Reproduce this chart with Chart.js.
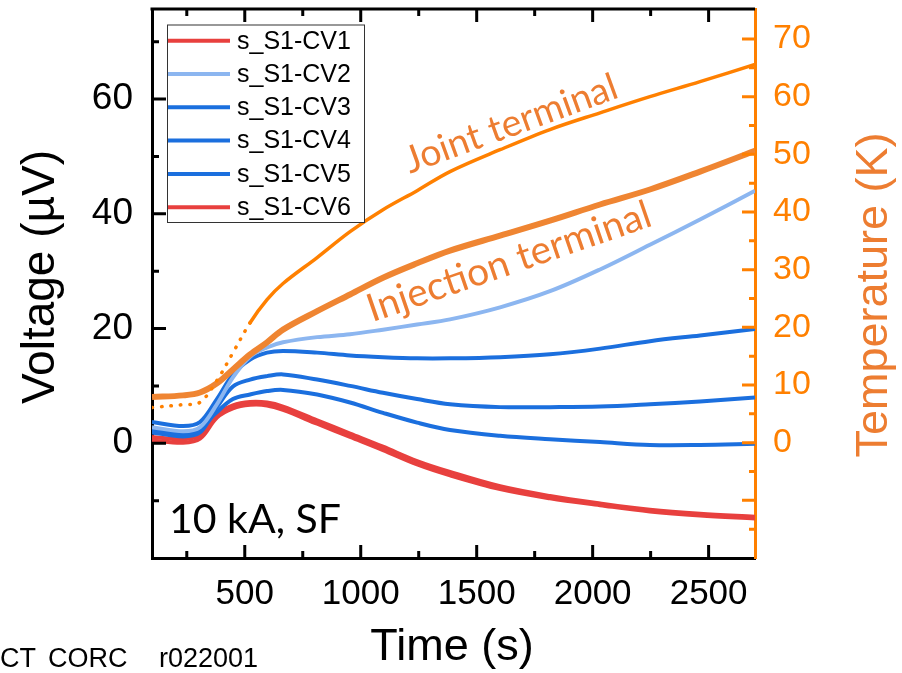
<!DOCTYPE html>
<html>
<head>
<meta charset="utf-8">
<script src="https://cdn.jsdelivr.net/npm/chart.js@4.4.1/dist/chart.umd.min.js"></script>
<style>
  html, body { margin: 0; padding: 0; background: #fff; }
  #wrap { width: 902px; height: 673px; }
</style>
</head>
<body>
<div id="wrap"><canvas id="chart" width="902" height="673"></canvas></div>
<script>
// temps (s)
const time = [100, 234, 307, 380, 449, 523, 596, 665, 812, 954, 1096, 1243, 1385, 1601, 1816, 2032, 2247, 2463, 2700];

// tensions (µV)
const cv1 = [0.5, 0.1, 0.8, 4.5, 6.1, 6.7, 6.6, 5.8, 3.4, 1.1, -1.2, -3.7, -5.6, -8.0, -9.6, -10.8, -11.9, -12.6, -13.1];
const cv2 = [2.8, 2.1, 2.8, 6.8, 11.5, 15.1, 16.7, 17.6, 18.5, 19.0, 19.8, 20.7, 21.6, 23.7, 26.5, 30.3, 34.6, 39.0, 44.0];
const cv3 = [3.7, 3.0, 3.7, 7.7, 12.0, 14.6, 15.8, 16.1, 15.8, 15.3, 15.0, 14.8, 14.8, 15.0, 15.5, 16.5, 17.8, 18.8, 19.9];
const cv4 = [2.3, 1.6, 2.3, 6.3, 9.9, 11.1, 11.7, 12.0, 11.1, 10.0, 8.8, 7.7, 6.8, 6.3, 6.3, 6.4, 6.8, 7.3, 8.0];
const cv5 = [1.9, 1.2, 1.9, 5.4, 7.7, 8.5, 9.1, 9.3, 8.5, 7.1, 5.3, 3.6, 2.3, 1.3, 0.7, 0.2, -0.3, -0.3, -0.1];
const cv6 = [1.1, 0.7, 1.4, 5.0, 6.6, 7.2, 7.1, 6.4, 4.0, 1.7, -0.6, -3.1, -5.0, -7.5, -9.2, -10.5, -11.6, -12.3, -12.8];

// températures (K)
const tJoint = [6.1, 6.6, 7.0, 10.8, 15.6, 20.8, 24.8, 27.6, 32.1, 36.6, 40.4, 43.7, 47.0, 50.8, 54.3, 57.2, 60.0, 62.6, 65.6];
const tInjection = [7.9, 8.2, 8.7, 10.3, 12.7, 15.3, 17.4, 19.6, 22.8, 25.7, 28.6, 31.1, 33.3, 35.9, 38.5, 41.3, 43.9, 47.0, 50.6];

// étiquettes des axes
const timeLabels = [500, 1000, 1500, 2000, 2500];
const voltLabels = [0, 20, 40, 60];
const tempLabels = [0, 10, 20, 30, 40, 50, 60, 70];

const RED = '#e8403e';
const LIGHT = '#8cb6f0';
const BLUE = '#1b6fde';
const ORANGE = '#ff8000';
const ORANGE2 = '#ed7d31';

const pts = arr => arr.map((v, i) => ({ x: time[i], y: v }));

// pas de marge automatique autour des axes
const fixBox = (w, h) => s => {
    if (w !== null) s.width = w;
    if (h !== null) s.height = h;
    s.paddingTop = 0;
    s.paddingBottom = 0;
    s.paddingLeft = 0;
    s.paddingRight = 0;
};

// ticks vers l'intérieur + bord du haut
const axisDecor = {
    id: 'axisDecor',
    afterDraw(chart) {
        const { ctx, chartArea: a, scales: { x, y, y2 } } = chart;
        ctx.save();
        ctx.lineWidth = 3;
        ctx.strokeStyle = '#000';
        ctx.beginPath();
        ctx.moveTo(a.left - 1.5, a.top);
        ctx.lineTo(a.right, a.top);
        x.ticks.forEach(t => {
            const px = x.getPixelForValue(t.value);
            const len = t.value % 500 === 0 ? 13 : 7;
            ctx.moveTo(px, a.bottom);
            ctx.lineTo(px, a.bottom - len);
            ctx.moveTo(px, a.top);
            ctx.lineTo(px, a.top + len);
        });
        y.ticks.forEach(t => {
            const py = y.getPixelForValue(t.value);
            if (py > a.bottom - 3 || py < a.top + 3) return;
            const len = t.value % 20 === 0 ? 14 : 7;
            ctx.moveTo(a.left, py);
            ctx.lineTo(a.left + len, py);
        });
        ctx.stroke();
        ctx.strokeStyle = ORANGE;
        ctx.beginPath();
        y2.ticks.forEach(t => {
            const py = y2.getPixelForValue(t.value);
            if (py > a.bottom - 3 || py < a.top + 3) return;
            const len = t.value % 10 === 0 ? 13 : 6;
            ctx.moveTo(a.right, py);
            ctx.lineTo(a.right - len, py);
        });
        ctx.stroke();
        ctx.restore();
    }
};

// légende dans le cadre
const boxLegend = {
    id: 'boxLegend',
    afterDraw(chart) {
        const ctx = chart.ctx;
        const sets = chart.data.datasets.filter(d => d.label.startsWith('s_'));
        ctx.save();
        ctx.fillStyle = '#fff';
        ctx.fillRect(167.5, 25, 197, 197.5);
        ctx.strokeStyle = '#333';
        ctx.lineWidth = 1;
        ctx.strokeRect(167.5, 25, 197, 197.5);
        ctx.font = '25px "Liberation Sans", Arial, sans-serif';
        ctx.textBaseline = 'middle';
        sets.forEach((d, i) => {
            const yy = 40.7 + i * 33.3;
            ctx.strokeStyle = d.borderColor;
            ctx.lineWidth = 4;
            ctx.beginPath();
            ctx.moveTo(168, yy);
            ctx.lineTo(230, yy);
            ctx.stroke();
            ctx.fillStyle = '#000';
            ctx.fillText(d.label, 237, yy + 1);
        });
        ctx.restore();
    }
};

function fitSize(ctx, text, family, target) {
    ctx.font = '40px ' + family;
    return 40 * target / ctx.measureText(text).width;
}

function rotText(ctx, text, cx, cy, angle, family, target, color) {
    const size = fitSize(ctx, text, family, target);
    ctx.save();
    ctx.translate(cx, cy);
    ctx.rotate(angle);
    ctx.font = size + 'px ' + family;
    ctx.fillStyle = color;
    ctx.textAlign = 'center';
    ctx.textBaseline = 'middle';
    ctx.fillText(text, 0, 0);
    ctx.restore();
}

// titres et annotations
const annotations = {
    id: 'annotations',
    afterDraw(chart) {
        const ctx = chart.ctx;
        const sans = '"Liberation Sans", Arial, sans-serif';
        ctx.save();
        ctx.fillStyle = '#000';
        ctx.font = '46px ' + sans;
        ctx.textAlign = 'center';
        ctx.textBaseline = 'alphabetic';
        ctx.save();
        ctx.translate(54, 277);
        ctx.rotate(-Math.PI / 2);
        ctx.fillText('Voltage (\u00b5V)', 0, 0);
        ctx.restore();

        ctx.fillStyle = ORANGE2;
        ctx.font = '45px ' + sans;
        ctx.save();
        ctx.translate(887, 295);
        ctx.rotate(-Math.PI / 2);
        ctx.fillText('Temperature (K)', 0, 0);
        ctx.restore();

        ctx.fillStyle = '#000';
        ctx.font = '45px ' + sans;
        ctx.fillText('Time (s)', 452, 660);

        ctx.textAlign = 'left';
        ctx.font = '27px ' + sans;
        ctx.fillText('CT', 0, 667);
        ctx.fillText('CORC', 48, 667);
        ctx.fillText('r022001', 159, 667);

        const lato = 'Lato, "Open Sans", sans-serif';
        const s = fitSize(ctx, '10 kA, SF', lato, 172);
        ctx.font = s + 'px ' + lato;
        ctx.fillText('10 kA, SF', 169, 533);
        ctx.restore();

        rotText(ctx, 'Joint terminal', 511, 124, -20 * Math.PI / 180, lato, 224, ORANGE2);
        rotText(ctx, 'Injection terminal', 509, 262, -19 * Math.PI / 180, lato, 298, ORANGE2);
    }
};

const vSet = (label, data, color) => ({
    label: label,
    data: pts(data),
    borderColor: color,
    backgroundColor: color,
    borderWidth: 4,
    yAxisID: 'y'
});

const ctx = document.getElementById('chart').getContext('2d');
const chart = new Chart(ctx, {
    type: 'line',
    data: {
        datasets: [
            vSet('s_S1-CV1', cv1, RED),
            vSet('s_S1-CV2', cv2, LIGHT),
            vSet('s_S1-CV3', cv3, BLUE),
            vSet('s_S1-CV4', cv4, BLUE),
            vSet('s_S1-CV5', cv5, BLUE),
            vSet('s_S1-CV6', cv6, RED),
            {
                label: 'Joint terminal',
                data: pts(tJoint),
                borderColor: ORANGE,
                borderWidth: 3.5,
                borderCapStyle: 'round',
                yAxisID: 'y2',
                order: -1,
                segment: {
                    borderDash: c => c.p0.parsed.x < 500 ? [0.5, 9] : undefined
                }
            },
            {
                label: 'Injection terminal',
                data: pts(tInjection),
                borderColor: '#ef8532',
                borderWidth: 6,
                yAxisID: 'y2',
                order: -1
            }
        ]
    },
    options: {
        responsive: false,
        animation: false,
        devicePixelRatio: 1,
        layout: { padding: { top: 9, bottom: 0, left: 0, right: 0 } },
        elements: {
            point: { radius: 0 },
            line: { tension: 0.35 }
        },
        plugins: {
            legend: { display: false },
            tooltip: { enabled: false }
        },
        scales: {
            x: {
                type: 'linear',
                position: 'bottom',
                min: 100,
                max: 2700,
                afterFit: fixBox(null, 115),
                grid: { display: false, drawTicks: false },
                border: { display: true, color: '#000', width: 3 },
                ticks: {
                    stepSize: 250,
                    includeBounds: false,
                    autoSkip: false,
                    maxRotation: 0,
                    maxTicksLimit: 100,
                    padding: 15,
                    color: '#000',
                    font: { family: 'Liberation Sans', size: 35 },
                    callback: v => timeLabels.includes(v) ? v : ''
                }
            },
            y: {
                position: 'left',
                min: -20,
                max: 75.7,
                afterFit: fixBox(152, null),
                grid: { display: false, drawTicks: false },
                border: { display: true, color: '#000', width: 3 },
                ticks: {
                    stepSize: 10,
                    includeBounds: false,
                    autoSkip: false,
                    maxTicksLimit: 100,
                    padding: 19,
                    color: '#000',
                    font: { family: 'Liberation Sans', size: 37 },
                    callback: v => voltLabels.includes(v) ? v : ''
                }
            },
            y2: {
                position: 'right',
                min: -20,
                max: 75.2,
                afterFit: fixBox(147, null),
                grid: { display: false, drawTicks: false },
                border: { display: true, color: ORANGE, width: 3 },
                ticks: {
                    stepSize: 5,
                    includeBounds: false,
                    autoSkip: false,
                    maxTicksLimit: 100,
                    padding: 18,
                    color: ORANGE,
                    font: { family: 'Liberation Sans', size: 34 },
                    callback: v => tempLabels.includes(v) ? v : ''
                }
            }
        }
    },
    plugins: [axisDecor, boxLegend, annotations]
});
</script>
</body>
</html>
